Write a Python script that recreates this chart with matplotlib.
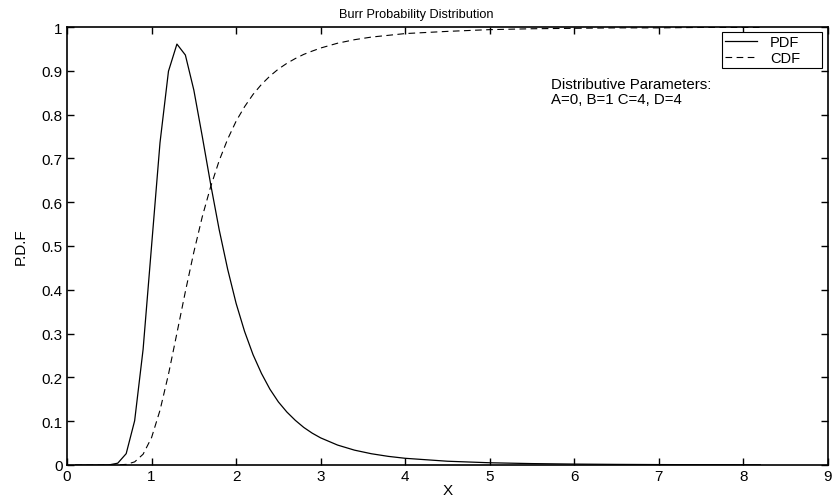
import matplotlib
matplotlib.use("Agg")
import matplotlib.pyplot as plt

plt.rcParams['font.family'] = ['Liberation Sans', 'DejaVu Sans']

x_vals = [0.1, 0.2, 0.3, 0.4, 0.5, 0.6, 0.7, 0.8, 0.9, 1.0,
          1.1, 1.2, 1.3, 1.4, 1.5, 1.6, 1.7, 1.8, 1.9, 2.0,
          2.1, 2.2, 2.3, 2.4, 2.5, 2.6, 2.7, 2.8, 2.9, 3.0,
          3.2, 3.4, 3.6, 3.8, 4.0, 4.5, 5.0, 5.5, 6.0, 6.5,
          7.0, 7.5, 8.0, 8.2]
pdf_vals = [0.0, 0.0, 0.0, 0.00002, 0.0004, 0.0041, 0.0259, 0.101, 0.264, 0.500,
            0.736, 0.899, 0.961, 0.936, 0.856, 0.750, 0.640, 0.537, 0.447, 0.369,
            0.305, 0.252, 0.209, 0.173, 0.144, 0.121, 0.102, 0.0858, 0.0727, 0.0619,
            0.0455, 0.0339, 0.0257, 0.0197, 0.0153, 0.0086, 0.0051, 0.0032, 0.0021, 0.0014,
            0.00095, 0.00067, 0.00049, 0.00043]
cdf_vals = [0.0, 0.0, 0.0, 0.0000004, 0.000012, 0.00017, 0.0014, 0.0071, 0.0246, 0.0625,
            0.125, 0.207, 0.301, 0.396, 0.486, 0.567, 0.636, 0.695, 0.744, 0.785,
            0.818, 0.846, 0.869, 0.888, 0.904, 0.917, 0.928, 0.9375, 0.945, 0.952,
            0.963, 0.971, 0.977, 0.981, 0.985, 0.990, 0.994, 0.996, 0.997, 0.998,
            0.998, 0.999, 0.999, 0.999]

x_ticks = [0, 1, 2, 3, 4, 5, 6, 7, 8, 9]
y_ticks = [0, 0.1, 0.2, 0.3, 0.4, 0.5, 0.6, 0.7, 0.8, 0.9, 1]
y_tick_labels = ['0', '0.1', '0.2', '0.3', '0.4', '0.5', '0.6', '0.7', '0.8', '0.9', '1']

W, H = 833, 502
fig = plt.figure(figsize=(W / 100, H / 100), dpi=100)
ax = fig.add_axes([67 / W, (H - 466) / H, (828 - 67) / W, (466 - 28) / H])

ax.plot(x_vals, pdf_vals, color='black', linewidth=0.9, linestyle='-', label='PDF')
ax.plot(x_vals, cdf_vals, color='black', linewidth=0.8, linestyle=(0, (6, 4)), label='CDF')

ax.set_xlim(0, 9)
ax.set_ylim(0, 1)
ax.set_xticks(x_ticks)
ax.set_xticklabels([str(t) for t in x_ticks])
ax.set_yticks(y_ticks)
ax.set_yticklabels(y_tick_labels)
ax.tick_params(direction='in', length=5, width=1, top=True, right=True,
               labelsize=11, pad=3, colors='black')
for s in ax.spines.values():
    s.set_linewidth(1.2)

fig.text(0.5, 1 - 18 / H, 'Burr Probability Distribution', fontsize=9.2,
         ha='center', va='baseline')
ax.set_xlabel('X', fontsize=11, labelpad=0)
ax.set_ylabel('P.D.F', fontsize=11, labelpad=10)

ax.text(5.72, (466 - 89) / 438, 'Distributive Parameters:',
        fontsize=10.8, va='baseline', ha='left')
ax.text(5.72, (466 - 104) / 438, 'A=0, B=1 C=4, D=4',
        fontsize=10.8, va='baseline', ha='left')

leg = ax.legend(loc='upper right', fontsize=10.5, frameon=True, fancybox=False,
                edgecolor='black', framealpha=1, handlelength=2.2,
                borderpad=0.2, labelspacing=0.15, handletextpad=0.9,
                mode='expand', borderaxespad=0,
                bbox_to_anchor=((722 - 67) / 761, (466 - 68) / 438, 100 / 761, 35 / 438))
leg.get_frame().set_linewidth(0.8)

fig.savefig('out.png', dpi=100)
